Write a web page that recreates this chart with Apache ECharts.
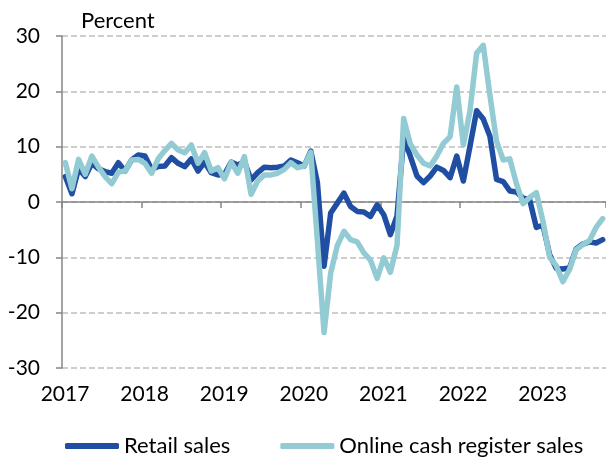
<!DOCTYPE html>
<html>
<head>
<meta charset="utf-8">
<script src="https://cdn.jsdelivr.net/npm/echarts@6/dist/echarts.min.js"></script>
<style>
  html, body { margin: 0; padding: 0; background: #fff; }
  #chart { width: 606px; height: 457px; }
</style>
</head>
<body>
<div id="chart"></div>
<script>
// monthly year-on-year change, Jan 2017 .. Oct 2023
const yearLabels = ["2017", "2018", "2019", "2020", "2021", "2022", "2023"];
const seriesNames = ["Retail sales", "Online cash register sales"];

const retailSales = [
    4.6, 1.5, 6.0, 4.6, 7.0, 6.0, 5.5, 5.2, 7.1, 5.6, 7.6, 8.5,
    8.3, 5.9, 6.4, 6.5, 8.0, 7.0, 6.4, 7.8, 5.6, 7.2, 5.3, 4.9,
    5.0, 7.2, 6.7, 7.3, 4.0, 5.3, 6.3, 6.2, 6.3, 6.5, 7.6, 7.1,
    6.5, 9.2, 3.5, -11.6, -2.0, -0.2, 1.6, -0.8, -1.7, -1.8, -2.6, -0.5,
    -2.3, -5.9, -2.5, 11.5, 8.3, 4.7, 3.5, 4.7, 6.3, 5.7, 4.4, 8.3,
    3.8, 10.1, 16.5, 15.0, 11.9, 4.1, 3.7, 2.0, 1.8, 0.7, 0.4, -4.6,
    -4.2, -9.5, -12.0, -12.1, -11.9, -8.5, -7.6, -7.2, -7.4, -6.8
];

const onlineSales = [
    7.1, 2.4, 7.7, 5.0, 8.3, 6.3, 4.6, 3.3, 5.4, 5.6, 7.6, 7.7,
    7.0, 5.2, 7.8, 9.3, 10.6, 9.4, 8.9, 10.3, 7.0, 8.9, 5.6, 6.2,
    4.2, 7.2, 5.2, 8.2, 1.4, 3.8, 4.9, 4.9, 5.2, 5.9, 7.1, 6.2,
    6.5, 9.0, -7.0, -23.6, -12.8, -7.9, -5.3, -6.8, -7.2, -9.2, -10.5, -13.8,
    -10.1, -12.7, -7.8, 15.1, 10.5, 8.5, 7.0, 6.5, 8.3, 10.6, 11.8, 20.8,
    10.3, 16.5, 26.9, 28.3, 19.3, 11.0, 7.6, 7.8, 3.3, -0.3, 0.8, 1.7,
    -3.5, -10.0, -11.5, -14.4, -12.2, -8.6, -7.7, -7.0, -4.6, -3.0
];

const FONT = "Lato";
const TEXT = "#000";
const AXIS_GREY = "#868686";

// each month sits in the middle of its slot on the date axis
function toPoints(values) {
    return values.map((v, i) => [i + 0.5, v]);
}

function yearOf(v) {
    const idx = Math.round(v / 12);
    return v % 12 === 0 && yearLabels[idx] ? yearLabels[idx] : "";
}

const chart = echarts.init(document.getElementById("chart"));

const option = {
    animation: false,
    title: {
        text: "Percent",
        left: 76,
        top: 5,
        textStyle: { fontFamily: FONT, fontSize: 22, fontWeight: "normal", color: TEXT },
    },
    legend: {
        data: seriesNames,
        left: 60,
        top: 430,
        itemWidth: 54,
        itemHeight: 6,
        itemGap: 50,
        icon: "roundRect",
        textStyle: { fontFamily: FONT, fontSize: 22, color: TEXT },
    },
    grid: { left: 62, right: -3, top: 36, bottom: 89 },
    xAxis: [
        {
            // axis line + ticks at zero
            type: "value",
            min: 0,
            max: 82,
            interval: 12,
            axisLine: { onZero: true, lineStyle: { color: AXIS_GREY, width: 1.5 } },
            axisTick: { length: 6, lineStyle: { color: AXIS_GREY, width: 1.5 } },
            axisLabel: { show: false },
            splitLine: { show: false },
        },
        {
            // year labels along the bottom
            type: "value",
            position: "bottom",
            min: 0,
            max: 82,
            interval: 12,
            axisLine: { show: false, onZero: false },
            axisTick: { show: false },
            splitLine: { show: false },
            axisLabel: {
                margin: 16,
                padding: [0, 0, 0, 6],
                showMaxLabel: false,
                fontFamily: FONT,
                fontSize: 21,
                color: TEXT,
                formatter: yearOf,
            },
        },
    ],
    yAxis: {
        type: "value",
        min: -30,
        max: 30,
        interval: 10,
        axisLine: { show: true, lineStyle: { color: AXIS_GREY, width: 1.5 } },
        axisTick: { show: true, length: 6, lineStyle: { color: AXIS_GREY, width: 1.5 } },
        axisLabel: { margin: 22, fontFamily: FONT, fontSize: 21, color: TEXT },
        splitLine: { lineStyle: { color: "#bfbfbf", width: 1.5, type: [6, 3] } },
    },
    series: [
        {
            name: seriesNames[0],
            type: "line",
            xAxisIndex: 0,
            data: toPoints(retailSales),
            showSymbol: false,
            lineStyle: { color: "#1f4ea3", width: 5.5, join: "round", cap: "round" },
            itemStyle: { color: "#1f4ea3" },
        },
        {
            name: seriesNames[1],
            type: "line",
            xAxisIndex: 0,
            data: toPoints(onlineSales),
            showSymbol: false,
            lineStyle: { color: "#92cbd3", width: 5.5, join: "round", cap: "round" },
            itemStyle: { color: "#92cbd3" },
        },
    ],
};

chart.setOption(option);
</script>
</body>
</html>
